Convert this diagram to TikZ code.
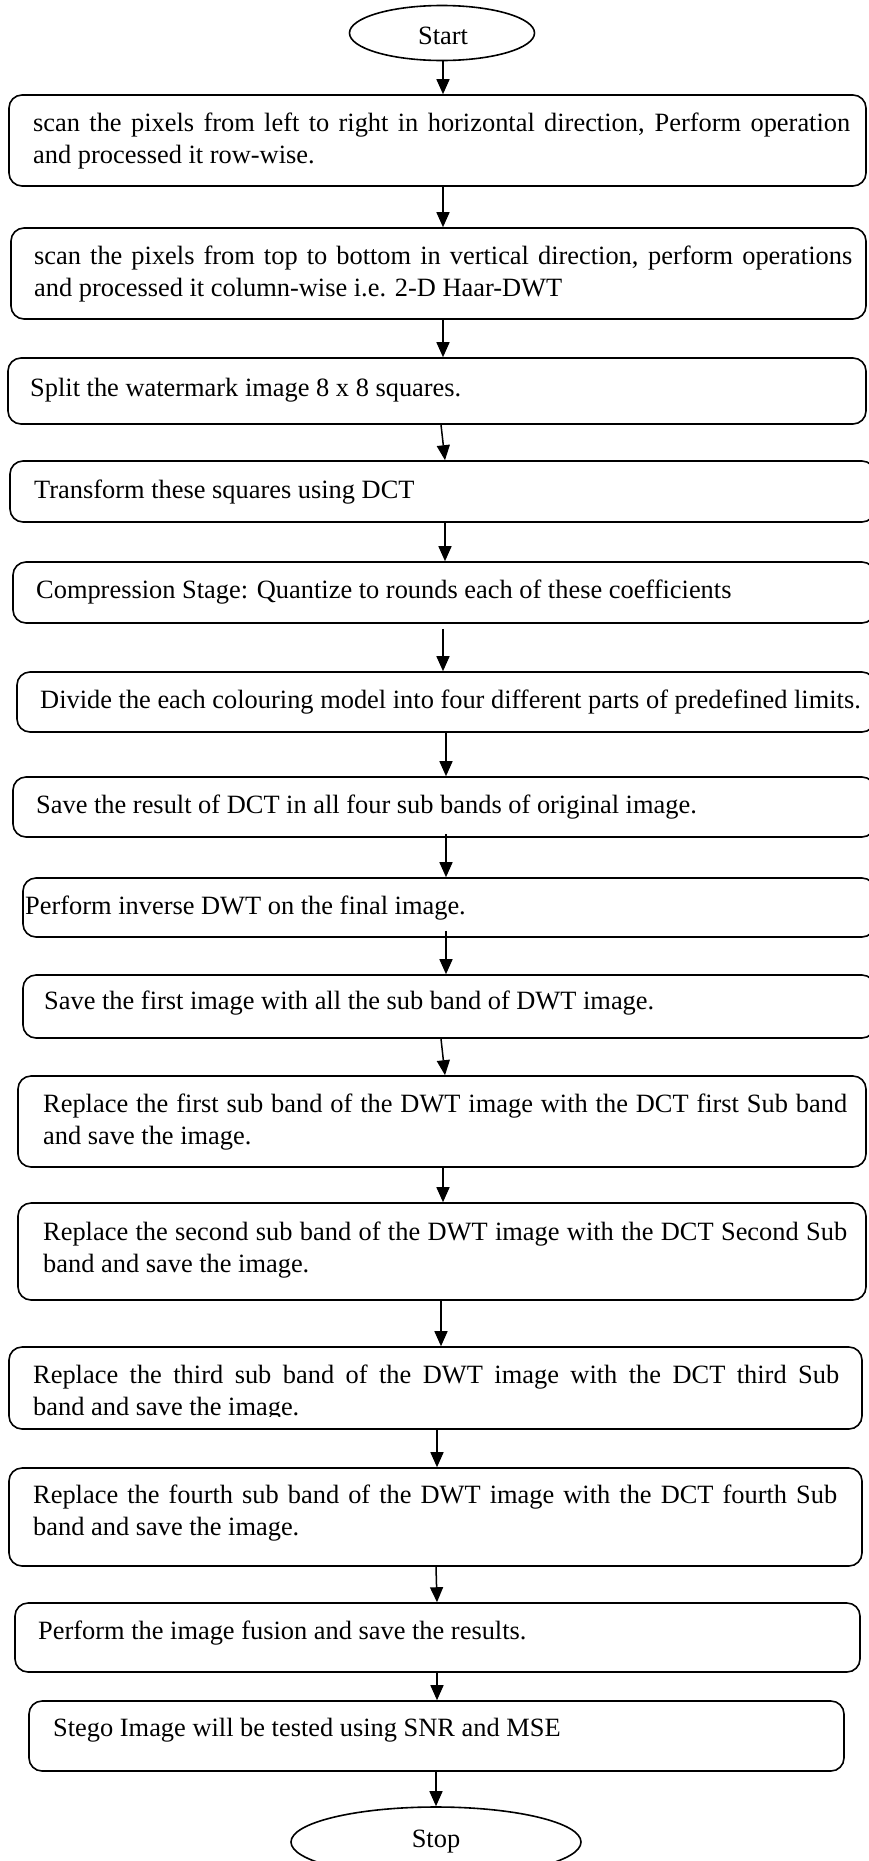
\documentclass[tikz,border=0pt]{standalone}
\usepackage{fontspec}
\setmainfont{Liberation Serif}
\usetikzlibrary{arrows.meta,shapes.geometric}
\begin{document}
\begin{tikzpicture}[x=1pt,y=-1pt,
  box/.style={draw, line width=1.6pt, rounded corners=13pt, inner sep=0pt},
  term/.style={draw, ellipse, line width=1.6pt, inner sep=0pt},
  txt/.style={inner sep=0pt, anchor=west, align=left, font=\fontsize{26.4}{31.5}\selectfont},
  ctxt/.style={inner sep=0pt, font=\fontsize{26.4}{31.5}\selectfont},
  arr/.style={-{Triangle[width=13pt,length=15pt]}, line width=1.5pt}]
\useasboundingbox (0,0) rectangle (868,1861);

% terminals
\node[term, minimum width=185pt, minimum height=55pt] (start) at (442,33) {};
\node[ctxt] (tstart) at (443,36) {Start};
\node[term, minimum width=290pt, minimum height=70pt] (stop) at (436,1842) {};
\node[ctxt] (tstop) at (436,1842) {Stop};

% boxes
\node[box, minimum width=857pt, minimum height=91pt] (b1) at (437.5,140.5) {};
\node[box, minimum width=855pt, minimum height=91pt] (b2) at (438.5,273.5) {};
\node[box, minimum width=858pt, minimum height=66pt] (b3) at (437,391) {};
\node[box, minimum width=865pt, minimum height=61pt] (b4) at (442.5,491.5) {};
\node[box, minimum width=862pt, minimum height=61pt] (b5) at (444,592.5) {};
\node[box, minimum width=858pt, minimum height=60pt] (b6) at (446,702) {};
\node[box, minimum width=862pt, minimum height=60pt] (b7) at (444,807) {};
\node[box, minimum width=852pt, minimum height=59pt] (b8) at (449,907.5) {};
\node[box, minimum width=852pt, minimum height=63pt] (b9) at (449,1006.5) {};
\node[box, minimum width=848pt, minimum height=91pt] (b10) at (442,1121.5) {};
\node[box, minimum width=848pt, minimum height=97pt] (b11) at (442,1251.5) {};
\node[box, minimum width=853pt, minimum height=82pt] (b12) at (435.5,1388) {};
\node[box, minimum width=853pt, minimum height=98pt] (b13) at (435.5,1517) {};
\node[box, minimum width=845pt, minimum height=69pt] (b14) at (437.5,1637.5) {};
\node[box, minimum width=815pt, minimum height=70pt] (b15) at (436.5,1736) {};

% texts
\node[txt] (t1) at (33,141) {\makebox[817pt][s]{scan the pixels from left to right in horizontal direction, Perform operation}\\and processed it row-wise.};
\node[txt] (t2) at (34,274) {\makebox[818pt][s]{scan the pixels from top to bottom in vertical direction, perform operations}\\and processed it column-wise i.e. 2-D Haar-DWT};
\node[txt] (t3) at (30,390) {Split the watermark image 8 x 8 squares.};
\node[txt] (t4) at (34,492) {Transform these squares using DCT};
\node[txt] (t5) at (36,592) {Compression Stage: Quantize to rounds each of these coefficients};
\node[txt] (t6) at (40,702) {Divide the each colouring model into four different parts of predefined limits.};
\node[txt] (t7) at (36,807) {Save the result of DCT in all four sub bands of original image.};
\node[txt] (t8) at (25,908) {Perform inverse DWT on the final image.};
\node[txt] (t9) at (44,1003) {Save the first image with all the sub band of DWT image.};
\node[txt] (t10) at (43,1122) {\makebox[804pt][s]{Replace the first sub band of the DWT image with the DCT first Sub band}\\and save the image.};
\node[txt] (t11) at (43,1250) {\makebox[804pt][s]{Replace the second sub band of the DWT image with the DCT Second Sub}\\band and save the image.};
\begin{scope}
\clip (9,1347) rectangle (862,1416);
\node[txt] (t12) at (33,1393) {\makebox[806pt][s]{Replace the third sub band of the DWT image with the DCT third Sub}\\band and save the image.};
\end{scope}
\node[txt] (t13) at (33,1513) {\makebox[804pt][s]{Replace the fourth sub band of the DWT image with the DCT fourth Sub}\\band and save the image.};
\node[txt] (t14) at (38,1633) {Perform the image fusion and save the results.};
\node[txt] (t15) at (53,1730) {Stego Image will be tested using SNR and MSE};

% arrows
\draw[arr] ([xshift=1pt]start.south) -- ([xshift=5.5pt]b1.north);
\draw[arr] ([xshift=5.5pt]b1.south) -- ([xshift=4.5pt]b2.north);
\draw[arr] ([xshift=4.5pt]b2.south) -- ([xshift=6pt]b3.north);
\draw[arr] ([xshift=4pt]b3.south) -- ([xshift=2.5pt]b4.north);
\draw[arr] ([xshift=2.5pt]b4.south) -- ([xshift=1pt]b5.north);
\draw[arr] ([xshift=-1pt,yshift=-5pt]b5.south) -- ([xshift=-3pt]b6.north);
\draw[arr] ([xshift=0pt]b6.south) -- ([xshift=2pt]b7.north);
\draw[arr] ([xshift=2pt,yshift=4pt]b7.south) -- ([xshift=-3pt]b8.north);
\draw[arr] ([xshift=-3pt,yshift=7pt]b8.south) -- ([xshift=-3pt]b9.north);
\draw[arr] ([xshift=-8pt]b9.south) -- ([xshift=3pt]b10.north);
\draw[arr] ([xshift=1pt]b10.south) -- ([xshift=1pt]b11.north);
\draw[arr] ([xshift=-1pt]b11.south) -- ([xshift=5.5pt]b12.north);
\draw[arr] ([xshift=1.5pt]b12.south) -- ([xshift=1.5pt]b13.north);
\draw[arr] ([xshift=0.5pt]b13.south) -- ([xshift=-0.5pt]b14.north);
\draw[arr] ([xshift=-0.5pt]b14.south) -- ([xshift=0.5pt]b15.north);
\draw[arr] ([xshift=-0.5pt]b15.south) -- (stop.north);
\end{tikzpicture}
\end{document}
